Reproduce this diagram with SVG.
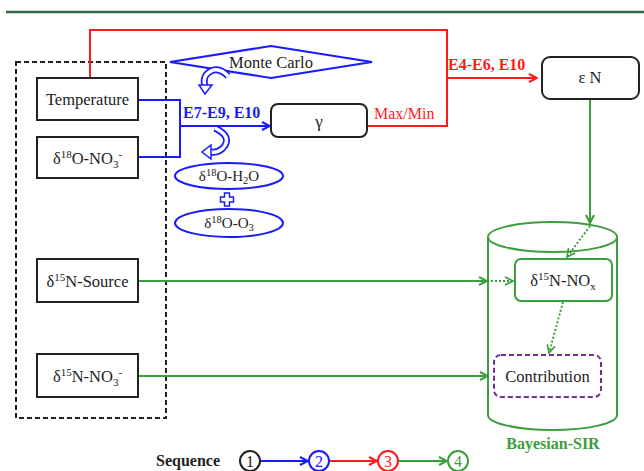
<svg xmlns="http://www.w3.org/2000/svg" width="644" height="471" viewBox="0 0 644 471" font-family="'Times New Roman', 'Liberation Serif', serif">
<defs>
<style>
text{font-family:'Times New Roman','Liberation Serif',serif;fill:#222;}
.box{fill:#fff;stroke:#222;stroke-width:2;}
.blue{stroke:#1a1aff;fill:none;stroke-width:2;}
.red{stroke:#ff1a1a;fill:none;stroke-width:2;}
.green{stroke:#3c9e3c;fill:none;stroke-width:2;}
.dot{stroke:#3c9e3c;fill:none;stroke-width:2;stroke-dasharray:2 2;}
.bt{fill:#1a1aff;font-weight:bold;}
.rt{fill:#ff1a1a;}
.sm{font-size:11px;}
</style>
<marker id="ab" viewBox="0 0 10 10" refX="9" refY="5" markerWidth="5" markerHeight="5" orient="auto"><path d="M1 1 L9 5 L1 9" fill="none" stroke="#1a1aff" stroke-width="2"/></marker>
<marker id="ar" viewBox="0 0 10 10" refX="9" refY="5" markerWidth="5" markerHeight="5" orient="auto"><path d="M1 1 L9 5 L1 9" fill="none" stroke="#ff1a1a" stroke-width="2"/></marker>
<marker id="ag" viewBox="0 0 10 10" refX="9" refY="5" markerWidth="5" markerHeight="5" orient="auto"><path d="M1 1 L9 5 L1 9" fill="none" stroke="#3c9e3c" stroke-width="2"/></marker>
<marker id="agd" viewBox="0 0 10 10" refX="9" refY="5" markerWidth="5" markerHeight="5" orient="auto"><path d="M1 1 L9 5 L1 9" fill="none" stroke="#3c9e3c" stroke-width="1.6"/></marker>
</defs>
<rect width="644" height="471" fill="#fff"/>
<line x1="6" y1="12" x2="644" y2="12" stroke="#2e6b45" stroke-width="2.5"/>

<g id="inputs-frame">
<rect x="16" y="62" width="150" height="356" fill="none" stroke="#222" stroke-width="2" stroke-dasharray="5 3"/>
</g>

<g id="connectors">
<polyline class="red" points="90,78 90,30 447,30 447,126 367,126"/>
<line class="red" x1="447" y1="78" x2="537" y2="78" marker-end="url(#ar)"/>
<polyline class="blue" points="138,100 180,100 180,157 138,157"/>
<line class="blue" x1="180" y1="126" x2="270" y2="126" marker-end="url(#ab)"/>
<line class="green" x1="590" y1="99" x2="590" y2="223" marker-end="url(#ag)"/>
<line class="green" x1="138" y1="281" x2="487" y2="281" marker-end="url(#ag)"/>
<line class="green" x1="138" y1="376" x2="488" y2="376" marker-end="url(#ag)"/>
</g>

<g id="temperature">
<rect class="box" x="37" y="78" width="101" height="42"/>
<text x="87.5" y="105" text-anchor="middle" font-size="16.5">Temperature</text>
</g>
<g id="d18O-NO3">
<rect class="box" x="37" y="137" width="101" height="41"/>
<text x="87.5" y="164" text-anchor="middle" font-size="16.5">δ<tspan class="sm" dy="-6">18</tspan><tspan dy="6">O-NO</tspan><tspan class="sm" dy="4">3</tspan><tspan class="sm" dy="-10">-</tspan></text>
</g>
<g id="d15N-source">
<rect class="box" x="37" y="259" width="101" height="43"/>
<text x="87.5" y="287" text-anchor="middle" font-size="16.5">δ<tspan class="sm" dy="-6">15</tspan><tspan dy="6">N-Source</tspan></text>
</g>
<g id="d15N-NO3">
<rect class="box" x="37" y="354" width="101" height="43"/>
<text x="87.5" y="382" text-anchor="middle" font-size="16.5">δ<tspan class="sm" dy="-6">15</tspan><tspan dy="6">N-NO</tspan><tspan class="sm" dy="4">3</tspan><tspan class="sm" dy="-10">-</tspan></text>
</g>

<g id="monte-carlo">
<polygon points="170,62 271,46 372,62 271,78" fill="#fff" stroke="#1a1aff" stroke-width="2"/>
<text x="271" y="68" text-anchor="middle" font-size="16.5">Monte Carlo</text>
</g>
<g id="curl-1">
<path d="M228 76 Q216 64 206 75 Q203 80 205 86" fill="none" stroke="#1a1aff" stroke-width="7"/>
<path d="M228 76 Q216 64 206 75 Q203 80 205 86" fill="none" stroke="#fff" stroke-width="3.5"/>
<polygon points="199,85 212,85 205,94" fill="#fff" stroke="#1a1aff" stroke-width="1.5"/>
</g>
<g id="curl-2">
<path d="M215 128 Q233 137 223 148 Q218 153 211 152" fill="none" stroke="#1a1aff" stroke-width="7"/>
<path d="M215 128 Q233 137 223 148 Q218 153 211 152" fill="none" stroke="#fff" stroke-width="3.5"/>
<polygon points="211,145 211,159 202,152" fill="#fff" stroke="#1a1aff" stroke-width="1.5"/>
</g>
<g id="label-e7">
<text class="bt" x="183" y="118" font-size="16">E7-E9, E10</text>
</g>
<g id="gamma">
<rect class="box" x="271" y="104" width="96" height="33" rx="7"/>
<text x="319" y="127" text-anchor="middle" font-size="17">γ</text>
</g>
<g id="label-maxmin">
<text class="rt" x="374" y="119" font-size="16">Max/Min</text>
</g>
<g id="d18O-H2O">
<ellipse cx="229" cy="176" rx="54" ry="13" fill="#fff" stroke="#1a1aff" stroke-width="2"/>
<text x="229" y="181" text-anchor="middle" font-size="15">δ<tspan font-size="10.5" dy="-5">18</tspan><tspan dy="5">O-H</tspan><tspan font-size="10.5" dy="3">2</tspan><tspan dy="-3">O</tspan></text>
</g>
<g id="plus">
<path d="M224.5 193 h5 v4 h4 v5 h-4 v4 h-5 v-4 h-4 v-5 h4 z" fill="#fff" stroke="#1a1aff" stroke-width="1.5"/>
</g>
<g id="d18O-O3">
<ellipse cx="229" cy="223" rx="54" ry="14" fill="#fff" stroke="#1a1aff" stroke-width="2"/>
<text x="229" y="228" text-anchor="middle" font-size="15">δ<tspan font-size="10.5" dy="-5">18</tspan><tspan dy="5">O-O</tspan><tspan font-size="10.5" dy="3">3</tspan></text>
</g>
<g id="label-e4">
<text x="448" y="70" font-size="16" font-weight="bold" style="fill:#ff1a1a">E4-E6, E10</text>
</g>
<g id="epsilon-n">
<rect class="box" x="542" y="57" width="97" height="42" rx="8"/>
<text x="590" y="83" text-anchor="middle" font-size="16.5">ε N</text>
</g>

<g id="bayesian-sir">
<path d="M488 237 V415 A64.5 15 0 0 0 617 415 V237" fill="#fff" stroke="#3c9e3c" stroke-width="2"/>
<ellipse cx="552.5" cy="237" rx="64.5" ry="15" fill="#fff" stroke="#3c9e3c" stroke-width="2"/>
<text x="553" y="449" text-anchor="middle" font-size="16" font-weight="bold" style="fill:#3c9e3c">Bayesian-SIR</text>
</g>
<g id="d15N-NOx">
<rect x="515" y="259" width="97" height="42" rx="6" fill="#fff" stroke="#3c9e3c" stroke-width="2"/>
<text x="563" y="286" text-anchor="middle" font-size="16.5">δ<tspan class="sm" dy="-6">15</tspan><tspan dy="6">N-NO</tspan><tspan class="sm" dy="4">x</tspan></text>
</g>
<g id="contribution">
<rect x="494" y="355" width="107" height="42" rx="7" fill="#fff" stroke="#7030a0" stroke-width="2" stroke-dasharray="5 3"/>
<text x="547.5" y="382" text-anchor="middle" font-size="16.5">Contribution</text>
</g>
<g id="dotted-connectors">
<line class="dot" x1="590" y1="226" x2="567" y2="257" marker-end="url(#agd)"/>
<line class="dot" x1="563" y1="302" x2="549" y2="353" marker-end="url(#agd)"/>
<line class="dot" x1="491" y1="281" x2="513" y2="281" marker-end="url(#agd)"/>
</g>

<g id="legend">
<text x="156" y="466" font-size="16" font-weight="bold">Sequence</text>
<line x1="260" y1="461" x2="308" y2="461" stroke="#1a1aff" stroke-width="2" marker-end="url(#ab)"/>
<line x1="329" y1="461" x2="377" y2="461" stroke="#ff1a1a" stroke-width="2" marker-end="url(#ar)"/>
<line x1="398" y1="461" x2="447" y2="461" stroke="#3c9e3c" stroke-width="2" marker-end="url(#ag)"/>
<circle cx="250" cy="461" r="10" fill="#fff" stroke="#222" stroke-width="2"/>
<text x="250" y="467" text-anchor="middle" font-size="16">1</text>
<circle cx="319" cy="461" r="10" fill="#fff" stroke="#1a1aff" stroke-width="2"/>
<text x="319" y="467" text-anchor="middle" font-size="16" style="fill:#1a1aff">2</text>
<circle cx="388" cy="461" r="10" fill="#fff" stroke="#ff1a1a" stroke-width="2"/>
<text x="388" y="467" text-anchor="middle" font-size="16" style="fill:#ff1a1a">3</text>
<circle cx="458" cy="461" r="10" fill="#fff" stroke="#3c9e3c" stroke-width="2"/>
<text x="458" y="467" text-anchor="middle" font-size="16" style="fill:#3c9e3c">4</text>
</g>
</svg>
